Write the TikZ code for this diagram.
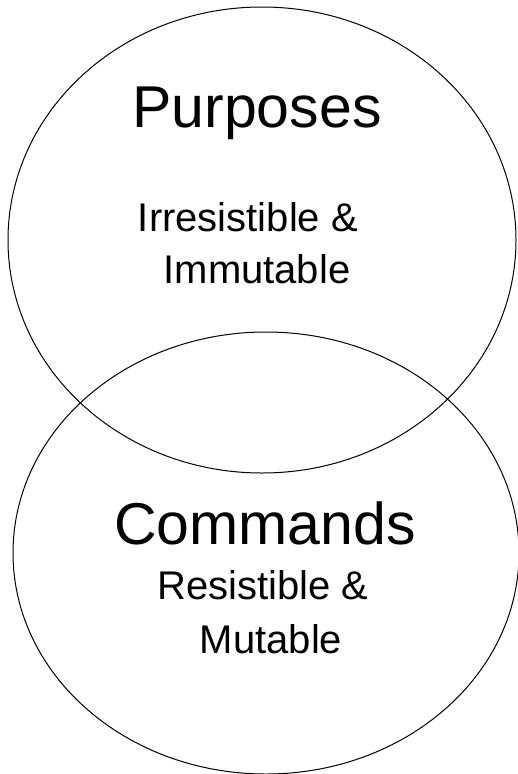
\documentclass[tikz,border=0pt]{standalone}
\usepackage{fontspec}
\setmainfont{Liberation Sans}
\usepackage{tikz}
\usetikzlibrary{shapes.geometric}
\tikzset{
  bubble/.style={draw, ellipse, line width=1pt, inner sep=0pt},
  bigword/.style={anchor=base, inner sep=0pt, font=\fontsize{59}{59}\selectfont},
  smallword/.style={anchor=base, inner sep=0pt, font=\fontsize{40}{40}\selectfont}
}

\begin{document}
\begin{tikzpicture}[x=1pt, y=-1pt]
  \useasboundingbox (0,0) rectangle (517,774);
  \node[bubble, minimum width=508pt, minimum height=466pt] (purposes) at (262,240) {};
  \node[bubble, minimum width=506pt, minimum height=442pt] (commands) at (266,553) {};
  \node[bigword] (purposestitle) at (257,127) {Purposes};
  \node[smallword] (irresistible) at (248,231) {Irresistible \&};
  \node[smallword] (immutable) at (257,283) {Immutable};
  \node[bigword] (commandstitle) at (265,544) {Commands};
  \node[smallword] (resistible) at (263,599) {Resistible \&};
  \node[smallword] (mutable) at (271,653) {Mutable};
\end{tikzpicture}
\end{document}
